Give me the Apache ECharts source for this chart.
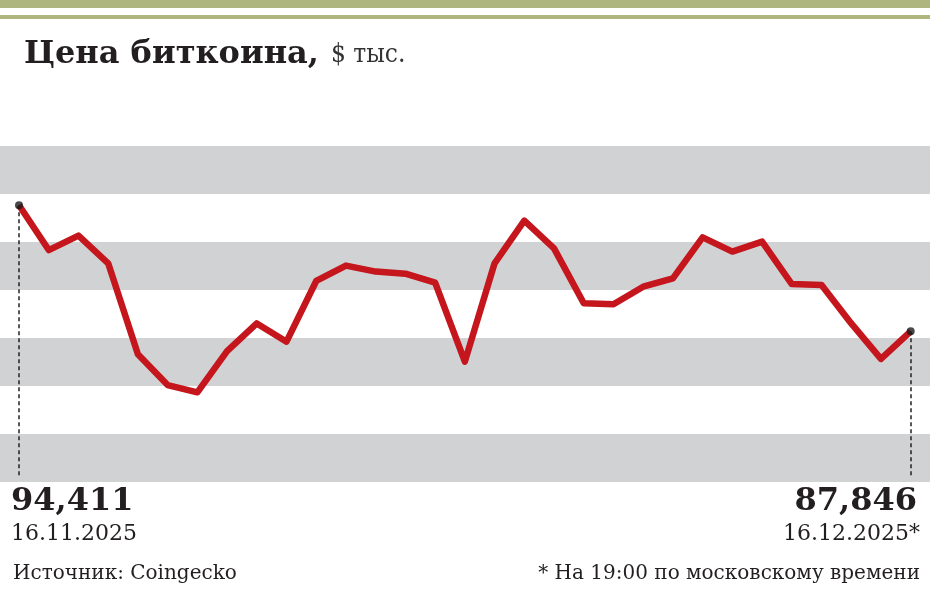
<!DOCTYPE html>
<html>
<head>
<meta charset="utf-8">
<style>
  html, body { margin: 0; padding: 0; background: #fff; }
  #chart { width: 930px; height: 590px; }
</style>
<script src="https://cdn.jsdelivr.net/npm/echarts@6/dist/echarts.min.js"></script>
</head>
<body>
<div id="chart"></div>
<script>
// ---- data ----
const dates = ['16.11.2025','17.11.2025','18.11.2025','19.11.2025','20.11.2025','21.11.2025','22.11.2025','23.11.2025','24.11.2025','25.11.2025','26.11.2025','27.11.2025','28.11.2025','29.11.2025','30.11.2025','01.12.2025','02.12.2025','03.12.2025','04.12.2025','05.12.2025','06.12.2025','07.12.2025','08.12.2025','09.12.2025','10.12.2025','11.12.2025','12.12.2025','13.12.2025','14.12.2025','15.12.2025','16.12.2025'];
const prices = [94.411, 92.08, 92.83, 91.39, 86.65, 85.05, 84.67, 86.82, 88.26, 87.31, 90.47, 91.27, 90.96, 90.85, 90.38, 86.27, 91.39, 93.61, 92.17, 89.31, 89.26, 90.17, 90.61, 92.74, 92.00, 92.52, 90.31, 90.26, 88.26, 86.41, 87.846];
const yTicks = [80, 82.5, 85, 87.5, 90, 92.5, 95, 97.5];
const titleMain = 'Цена биткоина,';
const titleUnit = '$ тыс.';
const sourceText = 'Источник: Coingecko';
const noteText = '* На 19:00 по московскому времени';

// ---- build ----
const fmt = v => v.toFixed(3).replace('.', ',');
const lastIdx = prices.length - 1;
const seriesData = prices.map((v, i) => [i, v]);
const yMin = yTicks[0], yMax = yTicks[yTicks.length - 1];
const yStep = yTicks[1] - yTicks[0];

const chart = echarts.init(document.getElementById('chart'), null, { renderer: 'canvas' });
const serif = '"DejaVu Serif", serif';
const ink = '#231f20';

chart.setOption({
  animation: false,
  backgroundColor: '#fff',
  grid: { left: 0, right: 0, top: 146, bottom: 108, containLabel: false },
  xAxis: {
    type: 'value', min: -0.64, max: lastIdx + 0.65,
    show: true, axisLine: { show: false }, axisTick: { show: false },
    axisLabel: { show: false }, splitLine: { show: false }
  },
  yAxis: {
    type: 'value', min: yMin, max: yMax, interval: yStep,
    axisLine: { show: false }, axisTick: { show: false }, axisLabel: { show: false },
    splitLine: { show: false },
    splitArea: { show: true, areaStyle: { color: ['#d1d2d4', '#ffffff'] } }
  },
  series: [
    {
      type: 'line', data: seriesData, symbol: 'none', smooth: false,
      lineStyle: { color: '#c4161c', width: 6.5, join: 'round', cap: 'butt' },
      markLine: {
        silent: true, symbol: 'none', label: { show: false },
        lineStyle: { color: '#222', width: 1.5, type: [4, 3] },
        data: [
          [{ coord: [0, prices[0]] }, { coord: [0, yMin + 0.3] }],
          [{ coord: [lastIdx, prices[lastIdx]] }, { coord: [lastIdx, yMin + 0.3] }]
        ]
      },
      z: 3
    },
    {
      type: 'scatter', data: [seriesData[0], seriesData[lastIdx]],
      symbol: 'circle', symbolSize: 8, itemStyle: { color: '#1a1a1a' }, z: 5
    }
  ],
  graphic: [
    { type: 'rect', shape: { x: 0, y: 0, width: 930, height: 8 }, style: { fill: '#aeb57f' } },
    { type: 'rect', shape: { x: 0, y: 15, width: 930, height: 4 }, style: { fill: '#aeb57f' } },
    {
      type: 'text', left: 24, top: 39,
      style: {
        text: '{b|' + titleMain + '}{u|' + titleUnit + '}',
        rich: {
          b: { font: 'bold 32px ' + serif, fill: ink },
          u: { font: '26px "DejaVu Serif Condensed", "DejaVu Serif", serif', fill: '#333', padding: [0, 0, 0, 12] }
        }
      }
    },
    { type: 'text', left: 11, top: 486, style: { text: fmt(prices[0]), font: 'bold 32px ' + serif, fill: ink } },
    { type: 'text', left: 11, top: 523, style: { text: dates[0], font: '22px ' + serif, fill: ink } },
    { type: 'text', left: 13, top: 564, style: { text: sourceText, font: '20px ' + serif, fill: ink } },
    { type: 'text', right: 13, top: 486, style: { text: fmt(prices[lastIdx]), font: 'bold 32px ' + serif, fill: ink } },
    { type: 'text', right: 10, top: 523, style: { text: dates[lastIdx] + '*', font: '22px ' + serif, fill: ink } },
    { type: 'text', right: 10, top: 564, style: { text: noteText, font: '20px ' + serif, fill: ink } }
  ]
});
</script>
</body>
</html>
